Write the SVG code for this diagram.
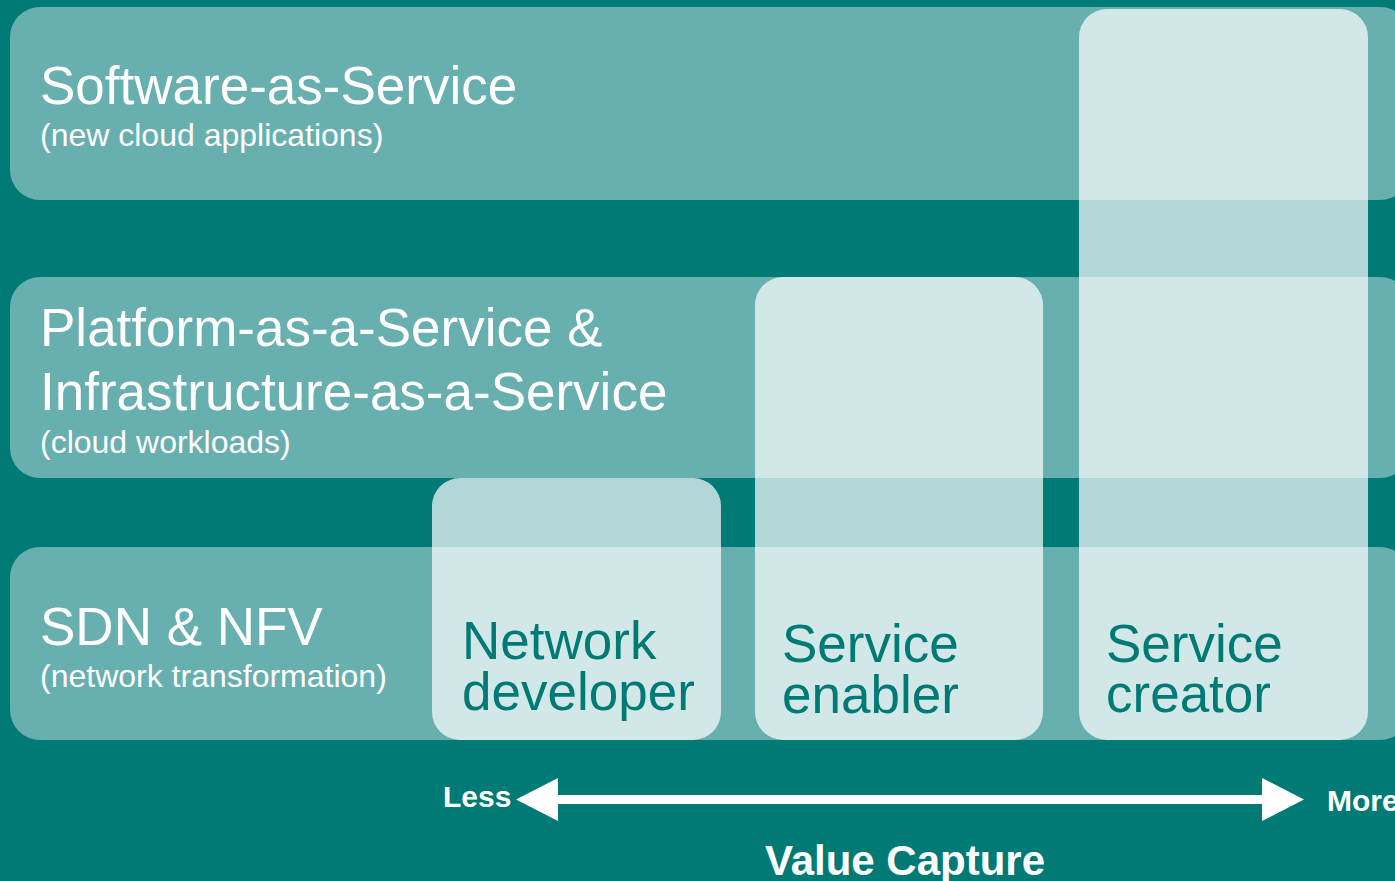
<svg xmlns="http://www.w3.org/2000/svg" width="1395" height="881" viewBox="0 0 1395 881">
<defs>
<style>
.band{fill:#68afaf}
.col{fill:#ffffff;fill-opacity:0.7}
.t1{font-family:"Liberation Sans",Arial,sans-serif;font-size:53px;fill:#ffffff}
.t2{font-family:"Liberation Sans",Arial,sans-serif;font-size:32px;fill:#ffffff}
.tc{font-family:"Liberation Sans",Arial,sans-serif;font-size:53px;fill:#007a75}
.tb{font-family:"Liberation Sans",Arial,sans-serif;font-weight:bold;fill:#ffffff}
</style>
</defs>
<rect x="0" y="0" width="1395" height="881" fill="#007a75"/>
<g id="band-saas">
<rect class="band" x="10" y="7" width="1400" height="193" rx="30" ry="30"/>
<text class="t1" x="40" y="104">Software-as-Service</text>
<text class="t2" x="40" y="146">(new cloud applications)</text>
</g>
<g id="band-paas">
<rect class="band" x="10" y="277" width="1400" height="201" rx="30" ry="30"/>
<text class="t1" x="40" y="346">Platform-as-a-Service &amp;</text>
<text class="t1" x="40" y="410">Infrastructure-as-a-Service</text>
<text class="t2" x="40" y="453">(cloud workloads)</text>
</g>
<g id="band-sdn">
<rect class="band" x="10" y="547" width="1400" height="193" rx="30" ry="30"/>
<text class="t1" x="40" y="645">SDN &amp; NFV</text>
<text class="t2" x="40" y="687">(network transformation)</text>
</g>
<g id="col-network-developer">
<rect class="col" x="432" y="478" width="289" height="262" rx="28" ry="28"/>
<text class="tc" x="462" y="659">Network</text>
<text class="tc" x="462" y="710">developer</text>
</g>
<g id="col-service-enabler">
<rect class="col" x="755" y="277" width="288" height="463" rx="28" ry="28"/>
<text class="tc" x="782" y="662">Service</text>
<text class="tc" x="782" y="713">enabler</text>
</g>
<g id="col-service-creator">
<rect class="col" x="1079" y="9" width="289" height="731" rx="28" ry="28"/>
<text class="tc" x="1106" y="662">Service</text>
<text class="tc" x="1106" y="712">creator</text>
</g>
<g id="connectors">
<rect x="556" y="795" width="709" height="9" fill="#ffffff"/>
<polygon points="516,799.5 558,778 558,821" fill="#ffffff"/>
<polygon points="1304,799.5 1262,778 1262,821" fill="#ffffff"/>
</g>
<g id="axis-labels">
<text class="tb" x="443" y="807" font-size="30">Less</text>
<text class="tb" x="1327" y="811" font-size="30">More</text>
<text class="tb" x="905" y="875" font-size="42" text-anchor="middle">Value Capture</text>
</g>
</svg>
